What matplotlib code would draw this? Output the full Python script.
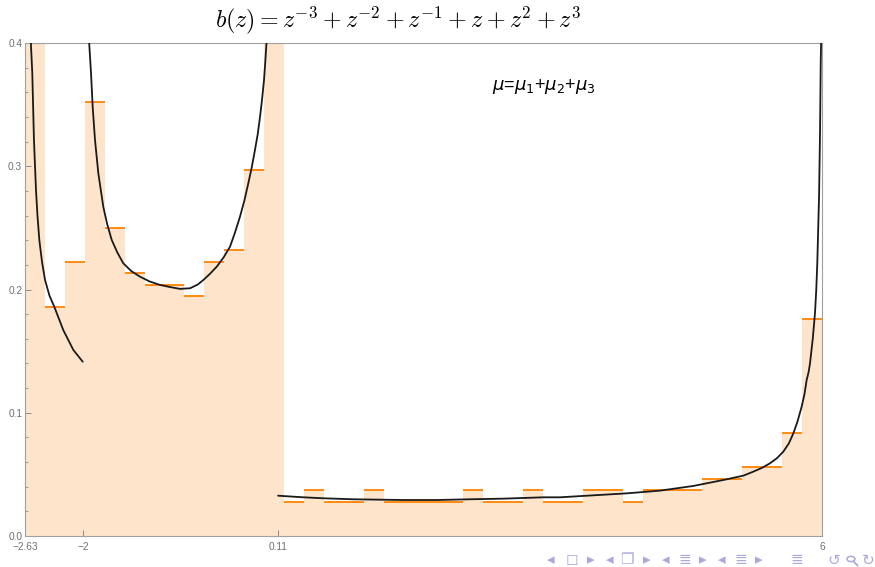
import numpy as np
import matplotlib.pyplot as plt
from matplotlib.patches import Circle
from matplotlib.lines import Line2D

# --- histogram data (500 eigenvalues, 40 equal bins on [-2.63, 6]) ---
x_lo, x_hi = -2.63, 6.0
n_bins = 40
n_total = 500
counts = [50, 20, 24, 38, 27, 23, 22, 22, 21, 24, 25, 32, 50,
          3, 4, 3, 3, 4, 3, 3, 3, 3, 4, 3, 3, 4, 3, 3, 4, 4, 3,
          4, 4, 4, 5, 5, 6, 6, 9, 19]

# --- limiting density (three branches) ---
curve1_x = [-2.568, -2.551, -2.533, -2.511, -2.495, -2.475, -2.445, -2.413, -2.365, -2.313,
            -2.215, -2.107, -2.005]
curve1_y = [0.4024, 0.3754, 0.3213, 0.2807, 0.2600, 0.2402, 0.2220, 0.2077, 0.1950, 0.1860,
            0.1670, 0.1510, 0.1414]

curve2_x = [-1.937, -1.915, -1.897, -1.872, -1.836, -1.782, -1.740, -1.691, -1.630, -1.566,
            -1.480, -1.385, -1.280, -1.168, -1.060, -0.952, -0.843, -0.760, -0.699, -0.630,
            -0.554, -0.480, -0.410, -0.355, -0.302, -0.255, -0.212, -0.175, -0.140, -0.110,
            -0.085, -0.062, -0.042, -0.028, -0.013]
curve2_y = [0.4024, 0.3754, 0.3480, 0.3213, 0.2943, 0.2670, 0.2530, 0.2402, 0.2300, 0.2213,
            0.2150, 0.2104, 0.2065, 0.2037, 0.2020, 0.2005, 0.2010, 0.2040, 0.2077, 0.2125,
            0.2185, 0.2260, 0.2347, 0.2465, 0.2591, 0.2720, 0.2862, 0.2990, 0.3132, 0.3260,
            0.3402, 0.3550, 0.3700, 0.3850, 0.4024]

curve3_x = [0.11, 0.383, 0.600, 0.925, 1.466, 1.828, 2.189, 2.550, 2.982, 3.163, 3.524, 3.885,
            4.246, 4.607, 4.968, 5.150, 5.256, 5.350, 5.437, 5.510, 5.581, 5.640, 5.690, 5.735,
            5.780, 5.810, 5.834, 5.855, 5.870, 5.900, 5.924, 5.938, 5.949, 5.968, 5.979, 5.986,
            5.995]
curve3_y = [0.0327, 0.0314, 0.0306, 0.0298, 0.0292, 0.0292, 0.0298, 0.0303, 0.0314, 0.0314, 0.0330, 0.0346,
            0.0368, 0.0406, 0.0460, 0.0490, 0.0522, 0.0553, 0.0590, 0.0630, 0.0684, 0.0750, 0.0833, 0.0930,
            0.1050, 0.1150, 0.1266, 0.1330, 0.1400, 0.1600, 0.1807, 0.2000, 0.2213, 0.2753, 0.3290, 0.3835,
            0.4200]

x_ticks = [-2.63, -2, 0.11, 6]
x_tick_labels = ['\u22122.63', '\u22122', '0.11', '6']
y_ticks = [0.0, 0.1, 0.2, 0.3, 0.4]
y_tick_labels = ['0.0', '0.1', '0.2', '0.3', '0.4']

fill_col = '#fde4cb'
top_col = '#ff8a10'
grey = '#8c8c8c'

fig = plt.figure(figsize=(8.75, 5.67), dpi=100)
ax = fig.add_axes([25 / 875, 1 - 536 / 567, 797 / 875, 493 / 567])

edges = np.linspace(x_lo, x_hi, n_bins + 1)
width = edges[1] - edges[0]
heights = np.array(counts) / (n_total * width)

ax.bar(edges[:-1], heights, width=width, align='edge', color=fill_col,
       edgecolor='none', linewidth=0, zorder=1)
ax.hlines(heights, edges[:-1], edges[1:], colors=top_col, linewidth=1.4, zorder=2)

for cx, cy in [(curve1_x, curve1_y), (curve2_x, curve2_y), (curve3_x, curve3_y)]:
    ax.plot(cx, cy, color='#1a1a1a', linewidth=1.3, zorder=3,
            solid_joinstyle='round', solid_capstyle='round')

ax.set_xlim(x_lo, x_hi)
ax.set_ylim(0, 0.4)
ax.set_xticks(x_ticks)
ax.set_xticklabels(x_tick_labels)
ax.set_yticks(y_ticks)
ax.set_yticklabels(y_tick_labels)
ax.set_yticks(np.arange(0, 0.401, 0.02), minor=True)

for s in ax.spines.values():
    s.set_color('#a0a0a0')
    s.set_linewidth(0.8)

ax.tick_params(axis='both', which='major', direction='in', length=4, width=0.7,
               color=grey, labelcolor='#707070', labelsize=7.3, pad=2)
ax.tick_params(axis='x', which='major', pad=4)
ax.tick_params(axis='y', which='minor', direction='in', length=2, width=0.6, color=grey)
for lab in ax.get_xticklabels() + ax.get_yticklabels():
    lab.set_fontfamily('Liberation Sans')

ax.text(2.43, 0.365, r'$\mu$=$\mu_1$+$\mu_2$+$\mu_3$', fontsize=13,
        family='Liberation Sans', math_fontfamily='dejavusans', va='center', ha='left')

fig.text(398 / 875, 1 - 20 / 567, r'$b(z)=z^{-3}+z^{-2}+z^{-1}+z+z^{2}+z^{3}$',
         fontsize=17.3, math_fontfamily='cm', ha='center', va='center')

# beamer navigation symbols
nav_col = '#a9a9dc'
nav = [(551, '\u25c2'), (572, '\u25fb'), (591, '\u25b8'), (610, '\u25c2'), (627, '\u2750'),
       (647, '\u25b8'), (666, '\u25c2'), (685, '\u2263'), (703, '\u25b8'), (722, '\u25c2'),
       (741, '\u2263'), (759, '\u25b8'), (797, '\u2263'), (834, '\u21ba'), (868, '\u21bb')]
for px, ch in nav:
    fig.text(px / 875, 1 - 560 / 567, ch, color=nav_col, fontsize=11,
             family=['DejaVu Sans'], ha='center', va='center')

# magnifier glyph (no installed font has it): small circle + handle
fx, fy = 851 / 875, 1 - 559 / 567
fig.patches.append(Circle((fx, fy), 4 / 875, transform=fig.transFigure, fill=False,
                          edgecolor=nav_col, linewidth=1.1))
fig.lines.append(Line2D([fx + 2.8 / 875, fx + 6.5 / 875], [fy - 2.8 / 567, fy - 6.5 / 567],
                        transform=fig.transFigure, color=nav_col, linewidth=1.3))

fig.savefig('out.png', dpi=100)
